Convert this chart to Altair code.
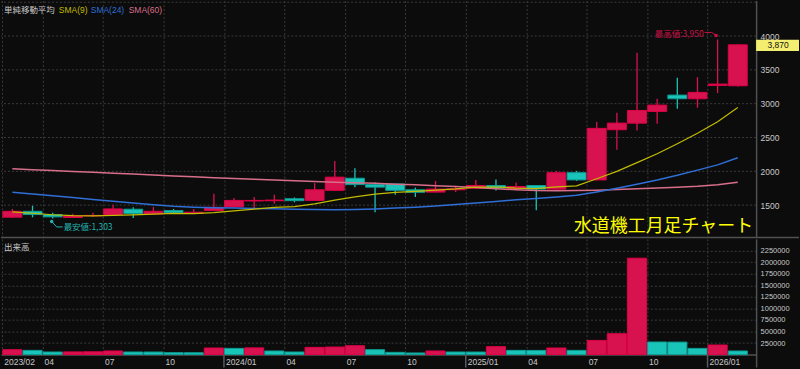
import altair as alt
import pandas as pd

# ---------------- data ----------------
months = ["2023-02", "2023-03", "2023-04", "2023-05", "2023-06", "2023-07", "2023-08",
          "2023-09", "2023-10", "2023-11", "2023-12", "2024-01", "2024-02", "2024-03",
          "2024-04", "2024-05", "2024-06", "2024-07", "2024-08", "2024-09", "2024-10",
          "2024-11", "2024-12", "2025-01", "2025-02", "2025-03", "2025-04", "2025-05",
          "2025-06", "2025-07", "2025-08", "2025-09", "2025-10", "2025-11", "2025-12",
          "2026-01", "2026-02"]
opens = [1322, 1409, 1361, 1318, 1342, 1361, 1440, 1371, 1420, 1380, 1420, 1474, 1562,
         1565, 1595, 1570, 1719, 1898, 1804, 1813, 1727, 1693, 1727, 1750, 1790, 1746,
         1790, 1737, 1980, 1873, 2615, 2712, 2886, 3127, 3073, 3270, 3265]
highs = [1444, 1490, 1386, 1372, 1386, 1507, 1470, 1474, 1444, 1444, 1668, 1605, 1620,
         1653, 1614, 1825, 2153, 2047, 1833, 1816, 1760, 1858, 1785, 1873, 1880, 1833,
         1797, 2007, 2007, 2733, 2866, 3754, 3073, 3384, 3393, 3950, 3880]
lows = [1310, 1320, 1303, 1310, 1330, 1350, 1310, 1360, 1375, 1370, 1415, 1465, 1449,
        1522, 1541, 1565, 1715, 1766, 1395, 1653, 1620, 1690, 1693, 1745, 1716, 1740,
        1424, 1730, 1858, 1865, 2319, 2604, 2703, 2925, 2940, 3156, 3255]
closes = [1409, 1361, 1327, 1340, 1348, 1444, 1375, 1409, 1386, 1395, 1468, 1570, 1570,
          1575, 1566, 1727, 1914, 1804, 1766, 1719, 1690, 1737, 1740, 1790, 1752, 1775,
          1737, 1980, 1873, 2635, 2713, 2900, 2979, 3073, 3167, 3290, 3870]
volumes = [106000, 91000, 56000, 58000, 60000, 78000, 56000, 55000, 41000, 40000,
           142000, 134000, 145000, 78000, 56000, 156000, 163000, 192000, 106000, 48000,
           35000, 78000, 56000, 55000, 171000, 91000, 90000, 142000, 91000, 307000,
           452000, 2087000, 272000, 270000, 134000, 207000, 78000]
sma9 = [1400, 1380, 1358, 1344, 1340, 1348, 1356, 1366, 1378, 1376, 1388, 1415, 1441,
        1466, 1479, 1518, 1575, 1621, 1662, 1690, 1703, 1722, 1740, 1765, 1768, 1753,
        1745, 1769, 1786, 1891, 1999, 2128, 2260, 2407, 2562, 2734, 2944]
sma24 = [1690, 1665, 1640, 1612, 1585, 1558, 1532, 1506, 1482, 1470, 1462, 1456, 1451,
         1446, 1441, 1436, 1433, 1436, 1444, 1456, 1470, 1488, 1508, 1530, 1555, 1578,
         1598, 1622, 1646, 1695, 1750, 1810, 1872, 1942, 2018, 2095, 2200]
sma60 = [2037, 2024, 2011, 1998, 1985, 1972, 1960, 1947, 1930, 1918, 1906, 1895, 1884,
         1873, 1862, 1850, 1838, 1830, 1822, 1810, 1800, 1788, 1775, 1762, 1742, 1728,
         1716, 1712, 1715, 1722, 1733, 1742, 1752, 1764, 1778, 1800, 1840]

x_tick_months = ["2023-02", "2023-04", "2023-07", "2023-10", "2024-01", "2024-04",
                 "2024-07", "2024-10", "2025-01", "2025-04", "2025-07", "2025-10", "2026-01"]
x_tick_labels = ["2023/02", "04", "07", "10", "2024/01", "04", "07", "10", "2025/01",
                 "04", "07", "10", "2026/01"]
price_grid = [1500, 2000, 2500, 3000, 3500, 4000, 4500]
price_labels = [1500, 2000, 2500, 3000, 3500, 4000]
volume_ticks = [250000, 500000, 750000, 1000000, 1250000, 1500000, 1750000, 2000000, 2250000]

legend_texts = ["単純移動平均", "SMA(9)", "SMA(24)", "SMA(60)"]
chart_title = "水道機工月足チャート"
volume_title = "出来高"

# ---------------- styles ----------------
BG = "#0c0c0c"
GRID = "#3b3b3b"
FRAME = "#505050"
TXT = "#c8c8c8"
RED = "#ff0552"
RED_D = "#e00048"
CYAN = "#1fe2d4"
CYAN_D = "#0e9c94"
C9 = "#c2bb00"
C24 = "#2f6fd6"
C60 = "#d86f8a"
LATIN = "Liberation Sans"
CJK = "Noto Sans CJK JP"

W = 757
H_P = 237
H_V = 116

n = len(months)
df = pd.DataFrame({"month": months, "open": opens, "high": highs, "low": lows,
                   "close": closes, "vol": volumes, "sma9": sma9, "sma24": sma24,
                   "sma60": sma60})
df["idx"] = list(range(n))
df["mid"] = df["idx"] + 0.5
df["end"] = df["idx"] + 1
df["top"] = df[["open", "close"]].max(axis=1)
df["bot"] = df[["open", "close"]].min(axis=1)
df["dir"] = ["up" if c >= o else "down" for o, c in zip(opens, closes)]
df["vdir"] = ["up"] + ["up" if volumes[i] >= volumes[i - 1] else "down" for i in range(1, n)]

tick_idx = [months.index(m) for m in x_tick_months]
year_idx = [tick_idx[i] for i, l in enumerate(x_tick_labels) if l.endswith("/01")]
ticks_df = pd.DataFrame({"idx": tick_idx, "t": x_tick_labels})

xscale = alt.Scale(domain=[-0.064, 37.41], nice=False, zero=False)
pscale = alt.Scale(domain=[1031, 4526], nice=False, zero=False)
vscale = alt.Scale(domain=[0, 2505000], nice=False, zero=True)

dir_fill = alt.Scale(domain=["up", "down"], range=[RED, CYAN])
dir_stroke = alt.Scale(domain=["up", "down"], range=[RED_D, CYAN_D])
wick_col = alt.Scale(domain=["up", "down"], range=["#d8124e", "#19c4b8"])

XA_P = alt.Axis(values=tick_idx, grid=True, labels=False, ticks=False, domain=False,
                title=None, gridColor=GRID, gridDash=[2, 2], gridWidth=1)
XA_V = alt.Axis(values=tick_idx, grid=True, labels=False, ticks=False, domain=True,
                domainColor=FRAME, domainWidth=1.5, title=None, gridColor=GRID,
                gridDash=[2, 2], gridWidth=1)
YA_P = alt.Axis(orient="right", values=price_labels, grid=False, ticks=False,
                domain=True, domainColor=FRAME, domainWidth=1.5, labelPadding=4,
                format="d", title=None, labelColor=TXT, labelFont=LATIN,
                labelFontSize=8.5)
YA_V = alt.Axis(orient="right", values=volume_ticks, grid=True, gridColor=GRID,
                gridDash=[2, 2], gridWidth=1, ticks=False, domain=True,
                domainColor=FRAME, domainWidth=1.5, labelPadding=4, format="d",
                title=None, labelColor=TXT, labelFont=LATIN, labelFontSize=7.5)


def px(f):
    return alt.X(f, scale=xscale, axis=XA_P)


def py(f):
    return alt.Y(f, scale=pscale, axis=YA_P)


base = alt.Chart(df)

# ---------------- price pane ----------------
hgrid = alt.Chart(pd.DataFrame({"p": price_grid})).mark_rule(
    color=GRID, strokeDash=[2, 2], strokeWidth=1
).encode(y=py("p:Q"))

wicks = base.mark_rule(strokeWidth=1.3).encode(
    x=px("mid:Q"), y=py("low:Q"), y2="high:Q",
    color=alt.Color("dir:N", scale=wick_col, legend=None),
)

bodies = base.mark_bar(xOffset=0.6, x2Offset=-0.6, strokeWidth=1).encode(
    x=px("idx:Q"), x2="end:Q", y=py("top:Q"), y2="bot:Q",
    color=alt.Color("dir:N", scale=dir_fill, legend=None),
    stroke=alt.Stroke("dir:N", scale=dir_stroke, legend=None),
)


def sma_line(field, col, w):
    return base.mark_line(color=col, strokeWidth=w).encode(x=px("mid:Q"), y=py(field + ":Q"))


l60 = sma_line("sma60", C60, 1.5)
l24 = sma_line("sma24", C24, 1.5)
l9 = sma_line("sma9", C9, 1.2)

hi_i = highs.index(max(highs))
lo_i = lows.index(min(lows))
hi_df = pd.DataFrame({"mid": [hi_i + 0.5], "v": [highs[hi_i]],
                      "t": ["最高値:{:,}".format(highs[hi_i])]})
lo_df = pd.DataFrame({"mid": [lo_i + 0.5], "v": [lows[lo_i]],
                      "t": ["最安値:{:,}".format(lows[lo_i])]})
HI_C = "#cc1048"
LO_C = "#22b5b0"


def conn(d, col, xo, x2o, yo, y2o):
    return alt.Chart(d).mark_rule(color=col, strokeWidth=1, xOffset=xo, x2Offset=x2o,
                                  yOffset=yo, y2Offset=y2o).encode(
        x=px("mid:Q"), x2="mid:Q", y=py("v:Q"), y2="v:Q")


hi_dot = alt.Chart(hi_df).mark_circle(size=12, color=HI_C, opacity=1, xOffset=-1.5,
                                     yOffset=-4).encode(x=px("mid:Q"), y=py("v:Q"))
hi_c1 = conn(hi_df, HI_C, -2, -6, -4.5, -7)
hi_c2 = conn(hi_df, HI_C, -6, -13, -7, -7)
hi_txt = alt.Chart(hi_df).mark_text(align="right", baseline="middle", dx=-14, dy=-5.5,
                                    font=CJK, fontSize=8.5, color=HI_C).encode(
    text="t:N", x=px("mid:Q"), y=py("v:Q"))

lo_dot = alt.Chart(lo_df).mark_circle(size=12, color=LO_C, opacity=1, xOffset=-1,
                                     yOffset=3).encode(x=px("mid:Q"), y=py("v:Q"))
lo_c1 = conn(lo_df, LO_C, -1, 4, 3, 8.5)
lo_c2 = conn(lo_df, LO_C, 4, 10, 8.5, 8.5)
lo_txt = alt.Chart(lo_df).mark_text(align="left", baseline="middle", dx=11, dy=9,
                                    font=CJK, fontSize=8.5, color=LO_C).encode(
    text="t:N", x=px("mid:Q"), y=py("v:Q"))

last_df = pd.DataFrame({"v": [closes[-1]]})
last_box = alt.Chart(last_df).mark_rect(color="#f4ee70", yOffset=-5, y2Offset=6.3).encode(
    x=alt.value(W), x2=alt.value(800), y=py("v:Q"), y2="v:Q")
last_txt = alt.Chart(last_df).mark_text(color="#111111", font=LATIN, fontSize=8.5,
                                        align="center", baseline="middle", dy=0.6).encode(
    x=alt.value(779), y=py("v:Q"), text=alt.Text("v:Q", format=","))

leg_x = [3, 58, 90, 128]
leg_c = [TXT, C9, C24, C60]
leg_f = [CJK, LATIN, LATIN, LATIN]
legend_layers = []
for t, xx, cc, ff in zip(legend_texts, leg_x, leg_c, leg_f):
    legend_layers.append(
        alt.Chart(pd.DataFrame({"t": [t]})).mark_text(
            align="left", baseline="middle", font=ff, fontSize=8.5, color=cc
        ).encode(x=alt.value(xx), y=alt.value(10), text="t:N"))

title_txt = alt.Chart(pd.DataFrame({"t": [chart_title]})).mark_text(
    align="right", baseline="middle", font=CJK, fontSize=18, color="#ffff00"
).encode(x=alt.value(754), y=alt.value(227), text="t:N")

sep = alt.Chart(pd.DataFrame({"a": [0]})).mark_rule(color=FRAME, strokeWidth=1.5).encode(
    x=alt.value(0), x2=alt.value(800), y=alt.value(H_P + 0.75))

price = alt.layer(hgrid, wicks, bodies, l60, l24, l9, hi_c1, hi_c2, hi_dot, hi_txt,
                  lo_c1, lo_c2, lo_dot, lo_txt, last_box, last_txt, *legend_layers,
                  title_txt, sep).properties(width=W, height=H_P)

# ---------------- volume pane ----------------
vx = alt.X("idx:Q", scale=xscale, axis=XA_V)
vbars = base.mark_bar(xOffset=0.5, x2Offset=-0.5, strokeWidth=1).encode(
    x=vx, x2="end:Q",
    y=alt.Y("vol:Q", scale=vscale, axis=YA_V), y2=alt.datum(0),
    color=alt.Color("vdir:N", scale=dir_fill, legend=None),
    stroke=alt.Stroke("vdir:N", scale=dir_stroke, legend=None),
)
year_rules = alt.Chart(pd.DataFrame({"idx": year_idx})).mark_rule(
    color="#5a5a5a", strokeWidth=1.5
).encode(x=vx, y=alt.value(H_V), y2=alt.value(H_V + 13))
tick_text = alt.Chart(ticks_df).mark_text(
    align="left", baseline="top", dx=2, dy=0, font=LATIN, fontSize=8.5, color=TXT
).encode(x=vx, y=alt.value(H_V + 3), text="t:N")
right_tail = alt.Chart(pd.DataFrame({"a": [0]})).mark_rule(
    color=FRAME, strokeWidth=1.5
).encode(x=alt.value(W + 0.5), y=alt.value(H_V), y2=alt.value(H_V + 13))
vol_label = alt.Chart(pd.DataFrame({"t": [volume_title]})).mark_text(
    align="left", baseline="middle", font=CJK, fontSize=8.5, color=TXT
).encode(x=alt.value(3), y=alt.value(8.5), text="t:N")

volume = alt.layer(vbars, year_rules, tick_text, right_tail, vol_label).properties(
    width=W, height=H_V)

chart = alt.vconcat(price, volume, spacing=0, padding=0, background=BG).configure_view(
    stroke=None
)

chart.save("out.html", embed_options={"renderer": "svg", "actions": False})
